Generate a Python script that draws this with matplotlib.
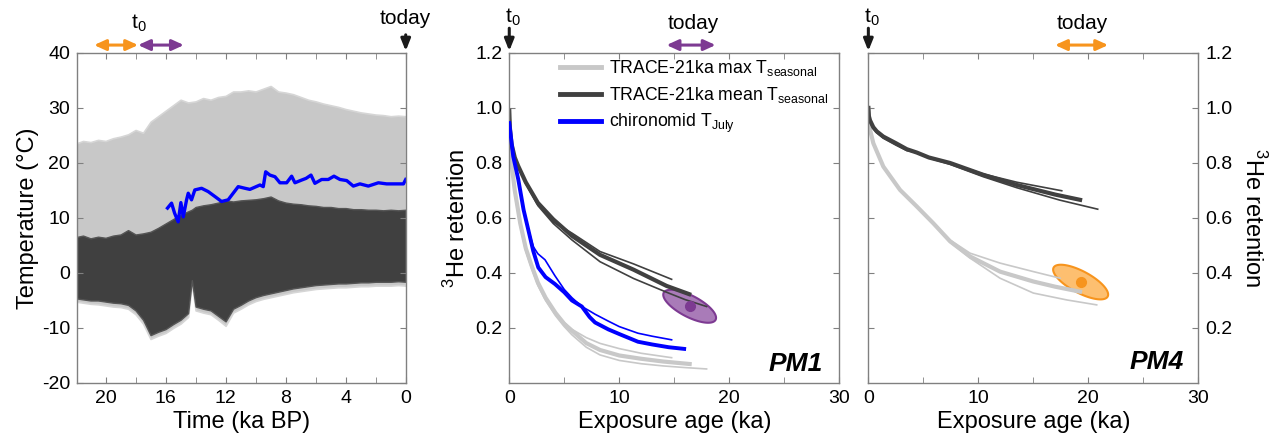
import numpy as np
import matplotlib

matplotlib.use("Agg")
import matplotlib.pyplot as plt

plt.rcParams["font.family"] = ["Liberation Sans", "DejaVu Sans"]
plt.rcParams["mathtext.fontset"] = "custom"
plt.rcParams["mathtext.rm"] = "Liberation Sans"
plt.rcParams["axes.unicode_minus"] = False

# ---- panel 1: TRACE-21ka seasonal temperature envelopes + chironomid record
t_env = [22.0, 21.5, 21.0, 20.5, 20.0, 19.5, 19.0, 18.5, 18.0, 17.5, 17.0, 16.5, 16.0,
         15.5, 15.0, 14.5, 14.25, 14.0, 13.5, 13.0, 12.5, 12.0, 11.5, 11.0, 10.5, 10.0,
         9.5, 9.0, 8.5, 8.0, 7.5, 7.0, 6.5, 6.0, 5.5, 5.0, 4.5, 4.0, 3.5, 3.0, 2.5, 2.0,
         1.5, 1.0, 0.5, 0.0]
max_hi = [23.5, 24.0, 23.8, 24.2, 24.0, 24.5, 24.8, 25.2, 26.0, 25.5, 27.5, 28.5, 29.5,
          30.5, 31.5, 31.0, 31.1, 31.2, 31.8, 31.5, 32.0, 32.2, 33.0, 33.0, 33.2, 33.0,
          33.5, 34.0, 33.0, 32.8, 32.5, 32.0, 31.5, 31.2, 30.8, 30.5, 30.2, 29.8, 29.5,
          29.2, 29.0, 28.8, 28.7, 28.5, 28.6, 28.5]
max_lo = [-5.2, -5.4, -5.6, -5.7, -5.9, -6.1, -6.2, -6.5, -7.5, -9.2, -12.0, -11.4, -10.9,
          -10.0, -9.2, -8.0, -1.8, -6.8, -7.2, -7.5, -8.5, -9.6, -7.2, -6.5, -5.7, -5.1,
          -4.7, -4.4, -4.1, -3.8, -3.5, -3.3, -3.1, -2.9, -2.8, -2.7, -2.6, -2.6, -2.5,
          -2.4, -2.4, -2.3, -2.3, -2.3, -2.2, -2.3]
mean_hi = [6.5, 6.8, 6.3, 6.6, 6.4, 6.8, 7.0, 7.8, 7.0, 7.2, 7.5, 8.2, 9.0, 9.8, 10.6,
           11.2, 11.5, 12.0, 12.3, 12.5, 12.8, 13.2, 13.0, 13.2, 13.3, 13.4, 13.6, 13.9,
           13.2, 12.8, 12.6, 12.5, 12.3, 12.2, 12.0, 12.0, 11.8, 11.8, 11.6, 11.6, 11.5,
           11.5, 11.4, 11.5, 11.4, 11.5]
mean_lo = [-4.6, -4.8, -5.0, -5.0, -5.2, -5.4, -5.5, -5.8, -6.8, -8.5, -11.3, -10.7, -10.2,
           -9.3, -8.5, -7.3, -1.3, -6.1, -6.5, -6.8, -7.8, -8.8, -6.5, -5.8, -5.0, -4.4,
           -4.0, -3.7, -3.4, -3.1, -2.8, -2.6, -2.4, -2.2, -2.1, -2.0, -1.9, -1.9, -1.8,
           -1.7, -1.7, -1.6, -1.6, -1.6, -1.5, -1.6]

t_chiro = [15.87, 15.6, 15.4, 15.16, 14.98, 14.82, 14.6, 14.49, 14.27, 14.05, 13.6, 13.16,
           12.71, 12.27, 11.83, 11.16, 10.71, 10.38, 9.71, 9.49, 9.33, 9.05, 8.71, 8.38,
           7.93, 7.6, 7.38, 6.93, 6.64, 6.31, 6.05, 5.6, 5.16, 4.78, 4.38, 3.93, 3.49,
           3.05, 2.49, 1.82, 1.27, 0.6, 0.15, 0.0]
T_chiro = [11.8, 12.7, 10.9, 9.3, 12.8, 10.2, 13.3, 14.5, 13.3, 15.1, 15.4, 14.8, 13.9,
           13.0, 13.3, 15.7, 15.4, 15.2, 16.0, 15.7, 18.4, 17.8, 17.5, 16.4, 16.4, 17.6,
           16.4, 16.9, 17.2, 17.8, 16.3, 17.0, 17.0, 17.6, 17.0, 16.8, 15.8, 16.2, 15.8,
           16.4, 16.2, 16.2, 16.2, 17.0]

# ---- panel 2 (PM1): 3He retention vs exposure age
pm1_max = [
    ([0, 0.2, 0.5, 1.0, 1.5, 2.0, 2.6, 3.3, 4.2, 5.0, 5.7, 7.0, 8.25, 10.0, 12.0, 14.76],
     [0.95, 0.80, 0.70, 0.58, 0.49, 0.43, 0.365, 0.31, 0.255, 0.22, 0.195, 0.165, 0.144, 0.125, 0.108, 0.092]),
    ([0, 0.2, 0.5, 1.0, 1.5, 2.0, 2.6, 3.3, 4.2, 5.0, 5.7, 7.0, 8.25, 10.0, 12.0, 14.0, 16.4],
     [0.95, 0.80, 0.70, 0.58, 0.49, 0.43, 0.365, 0.31, 0.255, 0.215, 0.19, 0.145, 0.12, 0.10, 0.088, 0.078, 0.069]),
    ([0, 0.2, 0.5, 1.0, 1.5, 2.0, 2.6, 3.3, 4.2, 5.0, 5.7, 7.0, 8.25, 10.0, 12.0, 14.0, 16.0, 17.94],
     [0.95, 0.79, 0.69, 0.57, 0.48, 0.42, 0.355, 0.30, 0.245, 0.205, 0.175, 0.13, 0.102, 0.082, 0.07, 0.062, 0.056, 0.051]),
]
pm1_mean = [
    ([0, 0.05, 0.2, 0.5, 0.8, 1.5, 2.6, 4.0, 5.7, 8.25, 11.3, 14.76],
     [0.99, 0.93, 0.87, 0.82, 0.79, 0.73, 0.65, 0.585, 0.545, 0.478, 0.433, 0.377]),
    ([0, 0.05, 0.2, 0.5, 0.8, 1.5, 2.6, 4.0, 5.7, 8.25, 11.3, 14.3, 16.36],
     [0.99, 0.93, 0.87, 0.82, 0.79, 0.73, 0.655, 0.595, 0.535, 0.466, 0.412, 0.353, 0.323]),
    ([0, 0.05, 0.2, 0.5, 0.8, 1.5, 2.6, 4.0, 5.7, 8.25, 11.3, 14.3, 16.0, 17.94],
     [0.99, 0.93, 0.87, 0.82, 0.79, 0.725, 0.645, 0.58, 0.52, 0.441, 0.38, 0.33, 0.303, 0.278]),
]
pm1_chiro = [
    ([0, 0.36, 0.82, 1.3, 1.73, 2.18, 2.6, 3.25, 4.15, 5.0, 5.7, 6.6, 7.3, 7.8, 9.0, 10.0, 11.7, 13.0, 14.76],
     [0.945, 0.824, 0.735, 0.63, 0.56, 0.496, 0.47, 0.448, 0.39, 0.34, 0.31, 0.278, 0.262, 0.25, 0.225, 0.205, 0.181, 0.17, 0.157]),
    ([0, 0.36, 0.82, 1.3, 1.73, 2.18, 2.64, 3.3, 4.15, 5.0, 5.7, 6.6, 7.3, 7.8, 9.0, 10.0, 11.7, 13.0, 14.5, 15.9],
     [0.945, 0.824, 0.74, 0.63, 0.557, 0.48, 0.42, 0.385, 0.36, 0.33, 0.30, 0.278, 0.24, 0.22, 0.195, 0.178, 0.15, 0.14, 0.13, 0.124]),
]
pm1_obs = (16.4, 0.279, 2.4, 0.06, -0.7)   # age, retention, x half-range, y half-range, corr

# ---- panel 3 (PM4)
pm4_max = [
    ([0, 0.1, 0.45, 1.36, 2.88, 4.4, 5.9, 7.43, 9.25, 11.97, 15.0, 17.43],
     [1.0, 0.93, 0.872, 0.787, 0.702, 0.642, 0.581, 0.52, 0.472, 0.436, 0.405, 0.381]),
    ([0, 0.1, 0.45, 1.36, 2.88, 4.4, 5.9, 7.43, 9.25, 11.97, 15.0, 17.0, 19.24],
     [1.0, 0.93, 0.872, 0.787, 0.702, 0.642, 0.581, 0.515, 0.46, 0.405, 0.369, 0.35, 0.332]),
    ([0, 0.1, 0.45, 1.36, 2.88, 4.4, 5.9, 7.43, 9.25, 11.97, 15.0, 18.04, 20.76],
     [1.0, 0.93, 0.872, 0.787, 0.702, 0.642, 0.581, 0.512, 0.454, 0.381, 0.327, 0.302, 0.284]),
]
pm4_mean = [
    ([0, 0.05, 0.15, 0.45, 0.76, 1.36, 2.5, 3.5, 4.4, 5.5, 7.43, 10.45, 13.5, 17.58],
     [1.0, 0.97, 0.955, 0.93, 0.915, 0.896, 0.872, 0.85, 0.838, 0.82, 0.80, 0.76, 0.73, 0.699]),
    ([0, 0.05, 0.15, 0.45, 0.76, 1.36, 2.5, 3.5, 4.4, 5.5, 7.43, 10.45, 13.5, 17.0, 19.25],
     [1.0, 0.97, 0.955, 0.93, 0.915, 0.896, 0.872, 0.85, 0.838, 0.82, 0.80, 0.757, 0.72, 0.685, 0.666]),
    ([0, 0.05, 0.15, 0.45, 0.76, 1.36, 2.5, 3.5, 4.4, 5.5, 7.43, 10.45, 13.5, 17.4, 20.85],
     [1.0, 0.97, 0.95, 0.925, 0.91, 0.89, 0.865, 0.845, 0.838, 0.818, 0.795, 0.75, 0.71, 0.665, 0.632]),
]
pm4_obs = (19.3, 0.367, 2.5, 0.063, -0.72)

LIGHT = "#C8C8C8"
DARK = "#404040"
BLUE = "#0000FF"
ORANGE = "#F7941D"
PURPLE = "#7D3A92"
SPINE = "#808080"


def estilo(ax):
    for s in ax.spines.values():
        s.set_color(SPINE)
        s.set_linewidth(1.0)
    ax.tick_params(which="both", direction="in", top=True, right=True,
                   color=SPINE, labelsize=14, pad=5)
    ax.tick_params(which="major", length=4)
    ax.tick_params(which="minor", length=4)


def elipse(ax, obs, color, fill):
    cx, cy, sx, sy, r = obs
    t = np.linspace(0, 2 * np.pi, 200)
    ex = cx + sx * np.cos(t)
    ey = cy + sy * (r * np.cos(t) + np.sqrt(1 - r ** 2) * np.sin(t))
    ax.fill(ex, ey, facecolor=fill, edgecolor=color, lw=1.5, zorder=1)
    ax.plot(cx, cy, "o", color=color, ms=7, zorder=4)


def flecha_doble(ax, x0, x1, y, color):
    ax.annotate("", xy=(x1, y), xytext=(x0, y), xycoords=ax.get_xaxis_transform(),
                textcoords=ax.get_xaxis_transform(), annotation_clip=False,
                arrowprops=dict(arrowstyle="<|-|>,head_length=0.7,head_width=0.32",
                                color=color, lw=2.2, shrinkA=0, shrinkB=0))


def flecha_abajo(ax, x, y0, y1):
    ax.annotate("", xy=(x, y1), xytext=(x, y0), xycoords=ax.get_xaxis_transform(),
                textcoords=ax.get_xaxis_transform(), annotation_clip=False,
                arrowprops=dict(arrowstyle="-|>,head_length=0.7,head_width=0.28",
                                color="#1a1a1a", lw=2.2, shrinkA=0, shrinkB=0))


fig = plt.figure(figsize=(12.77, 4.46), dpi=100)
ax1 = fig.add_axes([0.0603, 0.1413, 0.2574, 0.7399])
ax2 = fig.add_axes([0.3988, 0.1413, 0.2584, 0.7399])
ax3 = fig.add_axes([0.6800, 0.1413, 0.2584, 0.7399])

# panel 1
ax1.fill_between(t_env, max_lo, max_hi, color=LIGHT, lw=1.2, edgecolor="#D6D6D6")
ax1.fill_between(t_env, mean_lo, mean_hi, color=DARK, lw=1.0, edgecolor="#555555")
ax1.plot(t_chiro, T_chiro, color=BLUE, lw=2.4)
ax1.set_xlim(21.9, 0)
ax1.set_ylim(-20, 40)
ax1.set_xticks([20, 16, 12, 8, 4, 0])
ax1.set_xticks([18, 14, 10, 6, 2], minor=True)
ax1.set_yticks([-20, -10, 0, 10, 20, 30, 40])
estilo(ax1)
ax1.set_xlabel("Time (ka BP)", fontsize=17, labelpad=3)
ax1.set_ylabel("Temperature (°C)", fontsize=17, labelpad=2)
flecha_doble(ax1, 20.76, 17.83, 1.024, ORANGE)
flecha_doble(ax1, 17.83, 14.78, 1.024, PURPLE)
ax1.text(17.75, 1.09, r"t$_{\mathregular{0}}$", transform=ax1.get_xaxis_transform(),
         ha="center", va="center", fontsize=15)
ax1.text(0, 1.105, "today", transform=ax1.get_xaxis_transform(),
         ha="center", va="center", fontsize=15)
flecha_abajo(ax1, 0, 1.055, 1.006)

# panel 2 (PM1)
elipse(ax2, pm1_obs, PURPLE, "#A97BB8")
for (x, y), lw in zip(pm1_max, [1.2, 3, 1.2]):
    ax2.plot(x, y, color=LIGHT, lw=lw, zorder=2)
for (x, y), lw in zip(pm1_mean, [1.2, 3, 1.2]):
    ax2.plot(x, y, color=DARK, lw=lw, zorder=2)
for (x, y), lw in zip(pm1_chiro, [1.2, 2.8]):
    ax2.plot(x, y, color=BLUE, lw=lw, zorder=3)

# panel 3 (PM4)
elipse(ax3, pm4_obs, ORANGE, "#FDBF70")
for (x, y), lw in zip(pm4_max, [1.2, 3, 1.2]):
    ax3.plot(x, y, color=LIGHT, lw=lw, zorder=2)
for (x, y), lw in zip(pm4_mean, [1.2, 3, 1.2]):
    ax3.plot(x, y, color=DARK, lw=lw, zorder=2)

for ax in (ax2, ax3):
    ax.set_xlim(0, 30)
    ax.set_ylim(0, 1.2)
    ax.set_xticks([0, 10, 20, 30])
    ax.set_xticks([5, 15, 25], minor=True)
    ax.set_yticks([0.2, 0.4, 0.6, 0.8, 1.0, 1.2])
    ax.set_yticklabels(["0.2", "0.4", "0.6", "0.8", "1.0", "1.2"])
    estilo(ax)
    ax.set_xlabel("Exposure age (ka)", fontsize=17, labelpad=3)
    ax.text(0.3, 1.108, r"t$_{\mathregular{0}}$", transform=ax.get_xaxis_transform(),
            ha="center", va="center", fontsize=15)
    flecha_abajo(ax, 0, 1.075, 1.006)

ax2.set_ylabel(r"$^{\mathregular{3}}$He retention", fontsize=17, labelpad=4)
ax3.yaxis.tick_right()
ax3.tick_params(which="both", left=True, right=True, labelleft=False, labelright=True)
ax3.yaxis.set_label_position("right")
ax3.set_ylabel(r"$^{\mathregular{3}}$He retention", fontsize=17, rotation=270, labelpad=24)

ax2.text(0.951, 0.037, "PM1", transform=ax2.transAxes, ha="right", va="baseline",
         fontsize=19, fontweight="bold", fontstyle="italic")
ax3.text(0.957, 0.041, "PM4", transform=ax3.transAxes, ha="right", va="baseline",
         fontsize=19, fontweight="bold", fontstyle="italic")

flecha_doble(ax2, 14.3, 18.76, 1.024, PURPLE)
ax2.text(16.7, 1.088, "today", transform=ax2.get_xaxis_transform(),
         ha="center", va="center", fontsize=15)
flecha_doble(ax3, 16.97, 21.8, 1.024, ORANGE)
ax3.text(19.45, 1.09, "today", transform=ax3.get_xaxis_transform(),
         ha="center", va="center", fontsize=15)

# leyenda
handles = [plt.Line2D([], [], color=LIGHT, lw=3.5),
           plt.Line2D([], [], color=DARK, lw=3.5),
           plt.Line2D([], [], color=BLUE, lw=3.5)]
labels = [r"TRACE-21ka max T$_{\mathregular{seasonal}}$",
          r"TRACE-21ka mean T$_{\mathregular{seasonal}}$",
          r"chironomid T$_{\mathregular{July}}$"]
ax2.legend(handles, labels, loc="upper left", bbox_to_anchor=(0.155, 0.985),
           frameon=False, fontsize=12.7, handlelength=2.3, handletextpad=0.45,
           labelspacing=0.4, borderpad=0, borderaxespad=0)

fig.savefig("out.png", dpi=100)
